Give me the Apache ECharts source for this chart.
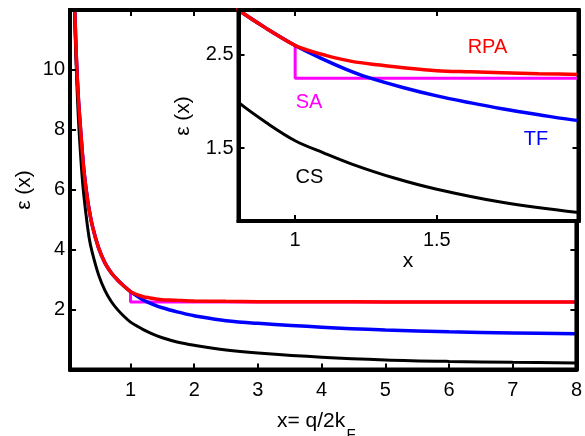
<!DOCTYPE html>
<html><head><meta charset="utf-8">
<script src="https://cdn.jsdelivr.net/npm/echarts@6/dist/echarts.min.js"></script>
<style>html,body{margin:0;padding:0;background:#fff}#c{width:585px;height:436px}</style>
</head><body><div id="c"></div>
<script>
// ---- data ----
// common branch (x <= 1), where TF, SA and RPA coincide
const lowX = [0.125, 0.15, 0.18, 0.22, 0.27, 0.33, 0.40, 0.50, 0.60, 0.70, 0.80, 0.90, 1.00];
const lowY = [12.0, 10.4, 9.1, 7.9, 6.6, 5.6, 4.8, 4.05, 3.55, 3.22, 2.98, 2.78, 2.60];
// TF branch for x >= 1
const tfX = [1.00, 1.09, 1.18, 1.26, 1.38, 1.50, 1.62, 1.73, 1.86, 2.00, 2.5, 3.0, 4.0, 5.0, 6.0, 7.0, 8.0];
const tfY = [2.60, 2.465, 2.345, 2.255, 2.15, 2.06, 1.985, 1.922, 1.858, 1.795, 1.63, 1.54, 1.41, 1.32, 1.26, 1.22, 1.19];
// RPA branch for x >= 1
const rpaX = [1.00, 1.05, 1.10, 1.20, 1.30, 1.40, 1.50, 1.62, 1.73, 1.86, 2.00, 2.5, 3.0, 4.0, 5.0, 6.0, 7.0, 8.0];
const rpaY = [2.60, 2.545, 2.50, 2.43, 2.39, 2.355, 2.33, 2.318, 2.308, 2.298, 2.29, 2.275, 2.265, 2.26, 2.255, 2.253, 2.252, 2.251];
// SA branch for x >= 1 (step)
const saX = [1.00, 1.00, 8.0];
const saY = [2.60, 2.25, 2.25];
// CS curve
const csX = [0.12, 0.14, 0.17, 0.20, 0.25, 0.30, 0.35, 0.40, 0.50, 0.60, 0.70, 0.80, 0.90, 1.00, 1.10, 1.20, 1.35, 1.50, 1.73, 2.00, 2.50, 3.0, 4.0, 5.0, 6.0, 7.0, 8.0];
const csY = [12.0, 10.6, 8.9, 7.7, 6.2, 5.2, 4.4, 3.9, 3.15, 2.63, 2.26, 1.99, 1.77, 1.58, 1.45, 1.33, 1.18, 1.06, 0.92, 0.81, 0.65, 0.55, 0.41, 0.32, 0.27, 0.24, 0.22];

// tick values
const mainXTicks = [1, 2, 3, 4, 5, 6, 7, 8];
const mainYTicks = [2, 4, 6, 8, 10];
const insetXTicks = [1, 1.5];
const insetYTicks = [1.5, 2.5];

function pairs(xs, ys) { return xs.map((x, i) => [x, ys[i]]); }
const tfData = pairs(lowX.concat(tfX.slice(1)), lowY.concat(tfY.slice(1)));
const rpaData = pairs(lowX.concat(rpaX.slice(1)), lowY.concat(rpaY.slice(1)));
const saData = pairs(lowX.concat(saX.slice(1)), lowY.concat(saY.slice(1)));
const csData = pairs(csX, csY);

const FONT = '"Liberation Sans", Arial, sans-serif';
const chart = echarts.init(document.getElementById('c'));

function axis(gridIndex, position, min, max, ticks, showLabels, margin, z) {
  return {
    type: 'value', gridIndex, position, min, max, z,
    axisLine: { show: true, onZero: false, lineStyle: { color: '#000', width: 4 } },
    axisTick: { show: true, inside: true, length: 6, customValues: ticks, lineStyle: { color: '#000', width: 2 } },
    axisLabel: { show: showLabels, customValues: ticks, margin, color: '#000', fontSize: 20, fontFamily: FONT },
    splitLine: { show: false }
  };
}

function line(data, color, width, xi, yi, z, smooth) {
  return {
    type: 'line', data, xAxisIndex: xi, yAxisIndex: yi, z,
    showSymbol: false, symbol: 'none', smooth: smooth ? 0.35 : false,
    clip: true, lineStyle: { color, width }, silent: true
  };
}

const seriesDefs = [
  [saData, '#ff00ff', 3, false],
  [tfData, '#0000ff', 3.5, true],
  [csData, '#000000', 3, true],
  [rpaData, '#ff0000', 3.5, true]
];

const series = [];
seriesDefs.forEach(d => series.push(line(d[0], d[1], d[2], 0, 0, 2, d[3])));
seriesDefs.forEach(d => series.push(line(d[0], d[1], d[2], 2, 2, 11, d[3])));

chart.setOption({
  animation: false,
  backgroundColor: '#fff',
  grid: [
    { left: 70, top: 10, width: 508.5, height: 359.5, show: true, borderColor: '#000', borderWidth: 4, backgroundColor: 'transparent', z: 3 },
    { left: 238.5, top: 10, width: 340, height: 211, show: true, borderColor: '#000', borderWidth: 4, backgroundColor: '#fff', z: 10 }
  ],
  xAxis: [
    axis(0, 'bottom', 0.05, 8, mainXTicks, true, 11, 4),
    axis(0, 'top', 0.05, 8, mainXTicks, false, 8, 4),
    axis(1, 'bottom', 0.8, 2, insetXTicks, true, 9, 12),
    axis(1, 'top', 0.8, 2, insetXTicks, false, 8, 12)
  ],
  yAxis: [
    axis(0, 'left', 0, 12, mainYTicks, true, 5, 4),
    axis(0, 'right', 0, 12, mainYTicks, false, 8, 4),
    axis(1, 'left', 0.72, 2.98, insetYTicks, true, 5, 12),
    axis(1, 'right', 0.72, 2.98, insetYTicks, false, 8, 12)
  ],
  series,
  graphic: [
    { type: 'text', x: 24, y: 190, rotation: Math.PI / 2, z: 20, style: { text: 'ε (x)', fontSize: 21, fontFamily: FONT, fill: '#000', align: 'center', verticalAlign: 'middle' } },
    { type: 'text', x: 277, y: 421.6, z: 20, style: { text: 'x= q/2k', fontSize: 21, fontFamily: FONT, fill: '#000', align: 'left', verticalAlign: 'middle' } },
    { type: 'text', x: 346.5, y: 434.5, z: 20, style: { text: 'F', fontSize: 15, fontFamily: FONT, fill: '#000', align: 'left', verticalAlign: 'middle' } },
    { type: 'text', x: 183, y: 116, rotation: Math.PI / 2, z: 20, style: { text: 'ε (x)', fontSize: 21, fontFamily: FONT, fill: '#000', align: 'center', verticalAlign: 'middle' } },
    { type: 'text', x: 408, y: 261, z: 20, style: { text: 'x', fontSize: 21, fontFamily: FONT, fill: '#000', align: 'center', verticalAlign: 'middle' } },
    { type: 'text', x: 487.5, y: 47, z: 20, style: { text: 'RPA', fontSize: 20, fontFamily: FONT, fill: '#ff0000', align: 'center', verticalAlign: 'middle' } },
    { type: 'text', x: 309, y: 102.5, z: 20, style: { text: 'SA', fontSize: 20, fontFamily: FONT, fill: '#ff00ff', align: 'center', verticalAlign: 'middle' } },
    { type: 'text', x: 536, y: 139.5, z: 20, style: { text: 'TF', fontSize: 20, fontFamily: FONT, fill: '#0000ff', align: 'center', verticalAlign: 'middle' } },
    { type: 'text', x: 309.5, y: 177, z: 20, style: { text: 'CS', fontSize: 20, fontFamily: FONT, fill: '#000', align: 'center', verticalAlign: 'middle' } }
  ]
});
</script></body></html>
